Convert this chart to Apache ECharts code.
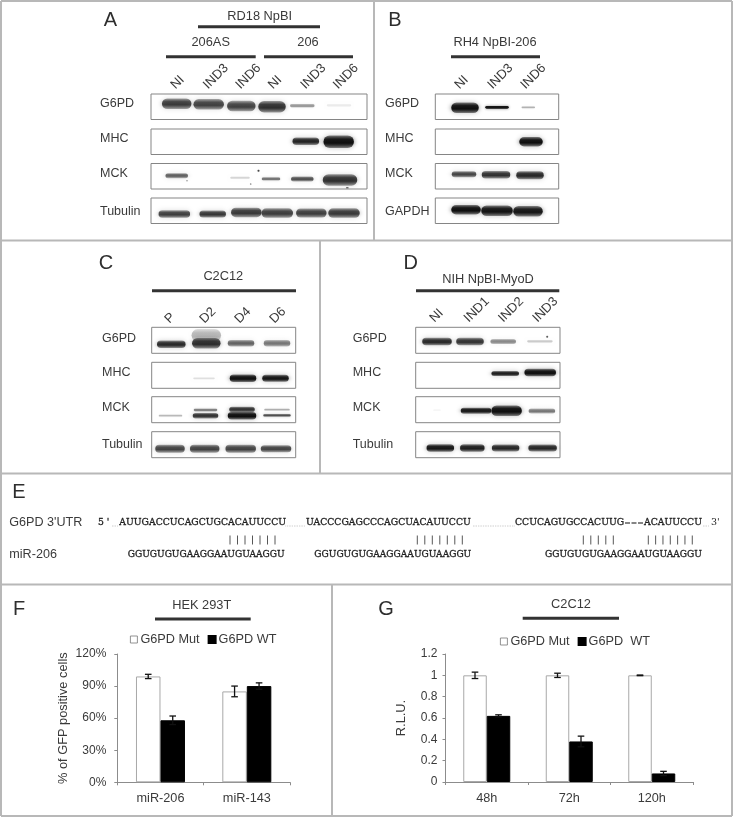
<!DOCTYPE html>
<html><head><meta charset="utf-8">
<style>html,body{margin:0;padding:0;background:#fff}#c{width:733px;height:817px;filter:blur(0.4px)}</style>
<script src="https://cdn.jsdelivr.net/npm/echarts@6/dist/echarts.min.js"></script>
</head><body><div id="c"></div>
<script>
/* ---------- data: band intensities (0..1) ---------- */
const lanesA=['NI','IND3','IND6','NI','IND3','IND6'];
const lanesB=['NI','IND3','IND6'];
const lanesC=['P','D2','D4','D6'];
const lanesD=['NI','IND1','IND2','IND3'];
const A_G6PD=[.75,.72,.72,.8,.38,.08];
const A_MHC=[0,0,0,0,.88,1];
const A_MCK=[.62,0,.16,.52,.68,.8];
const A_MCK_specks=[.5,0,.6,.7,0,.7];
const A_TUB=[.74,.78,.76,.74,.74,.76];
const B_G6PD=[1,.95,.3];
const B_MHC=[0,0,1];
const B_MCK=[.72,.8,.85];
const B_GAPDH=[1,.97,.95];
const C_G6PD=[.85,.82,.6,.52];
const C_G6PD_smear=[0,.28,0,0];
const C_MHC=[0,.13,1,.96];
const C_MCK_low=[.28,.82,1,.68];
const C_MCK_up=[0,.48,.8,.32];
const C_TUB=[.72,.72,.72,.72];
const D_G6PD=[.85,.8,.46,.2];
const D_G6PD_speck=[0,0,0,.6];
const D_MHC=[0,0,.92,1];
const D_MCK=[.04,.95,1,.52];
const D_TUB=[.95,.9,.86,.86];

const fCats=['miR-206','miR-143'];
const fMut=[99,85];
const fWT=[58,90];
const fMutErr=[2,5];
const fWTErr=[4,3];
const gCats=['48h','72h','120h'];
const gMut=[1,1,1];
const gWT=[.62,.38,.08];
const gMutErr=[.03,.02,.003];
const gWTErr=[.01,.05,.02];

const seqTop=['AUUGACCUCAGCUGCACAUUCCU','UACCCGAGCCCAGCUACAUUCCU','CCUCAGUGCCACUUG','ACAUUCCU'];
const seqMir='GGUGUGUGAAGGAAUGUAAGGU';

/* ---------- layout (pixels, offsets, sizes) ---------- */
const SANS='"Liberation Sans"';
const TXT='#3a3a3a';
const panels=[
 {labelX:100,left:151,right:367,tops:[94,129,163.5,198],h:25.5,lane0:177,step:32.5,names:lanesA,ldx:-4,ldy:-7,
  labelY:[104,139,174,212],
  rows:[
   {name:'G6PD',layers:[[A_G6PD,[[-.3,28,8,-3],[-.8,29,8,-2.4],[-.7,27,8,-.7],[-2.5,26,9,0],[-4.7,23,2,-1],[-.5,23,1.5,-1.4]]]]},
   {name:'MHC',layers:[[A_MHC,[0,0,0,0,[-1.2,25,5,-.5],[-.8,29,10,0]]]]},
   {name:'MCK',layers:[[A_MCK,[[-.3,21,2.5,-.6],0,[-2,18,1.2,1.4],[-3.5,17,2,2.7],[-4.7,21,2.5,2.7],[.5,33,9,3.7]]],
                       [A_MCK_specks,[[10,1.5,1,4.4],0,[8.7,1.5,1,7.7],[-16,2,2,-5.6],0,[7.8,2.5,1,11.5]]]]},
   {name:'Tubulin',layers:[[A_TUB,[[-2.7,30,5,3.3],[3.2,25,4.5,3.3],[4.3,29,7,1.7],[2.8,30,7,2.3],[4.3,29,6.5,2.3],[4.5,30,7,2.3]]]]}
  ]},
 {labelX:385,left:435.3,right:558.7,tops:[94,129,163.5,198],h:25.5,lane0:465,step:33,names:lanesB,ldx:-8,ldy:-7,
  labelY:[104,139,174,212],
  rows:[
   {name:'G6PD',layers:[[B_G6PD,[[0,26,8,1],[-1,22,2,.6],[-2.7,12,1,.6]]]]},
   {name:'MHC',layers:[[B_MHC,[0,0,[0,22,7,0]]]]},
   {name:'MCK',layers:[[B_MCK,[[-1,23,3.5,-2],[-2,27,5,-1.5],[-1,26,5.5,-1]]]]},
   {name:'GAPDH',layers:[[B_GAPDH,[[1,28,7,-1],[-1,30,8,0],[-3,28,8,.5]]]]}
  ]},
 {labelX:102,left:151.7,right:295.7,tops:[327.3,362.3,396.7,431.7],h:26,lane0:171,step:35,names:lanesC,ldx:-4,ldy:-6,
  labelY:[338.3,372.7,407.7,445],
  rows:[
   {name:'G6PD',layers:[[C_G6PD_smear,[0,[.3,28,10,-5],0,0]],[C_G6PD,[[.3,27,5,4],[.3,27,8,3],[0,25,4,3],[1,25,4,3]]]]},
   {name:'MHC',layers:[[C_MHC,[0,[-2,20,1,3],[2,25,5,3],[-.5,25,4.5,3]]]]},
   {name:'MCK',layers:[[C_MCK_low,[[-.5,22,1,6],[-.5,24,3,6],[1,27,5,6],[1,26,1.5,5.7]]],[C_MCK_up,[0,[-.5,22,1.5,.3],[1,24,3,-.3],[1,24,1,0]]]]},
   {name:'Tubulin',layers:[[C_TUB,[[-1,28,5.5,4],[-1.3,28,5.5,4],[-.3,29,5.5,4],[0,29,4.5,4]]]]}
  ]},
 {labelX:352.7,left:415.7,right:560,tops:[327.3,362.3,396.7,431.7],h:26,lane0:437,step:34.3,names:lanesD,ldx:-5,ldy:-7,
  labelY:[338.3,372.7,407.7,445],
  rows:[
   {name:'G6PD',layers:[[D_G6PD,[[0,28,5,1.3],[-1.3,26,5,1.3],[-2.4,24,2.5,1.3],[0,24,1.5,1]]],[D_G6PD_speck,[0,0,0,[7.3,2,2,-3.6]]]]},
   {name:'MHC',layers:[[D_MHC,[0,0,[-.4,26,2.5,-1.7],[.3,30,5,-2.7]]]]},
   {name:'MCK',layers:[[D_MCK,[[0,6,1,.5],[4.7,29,3.5,1],[1,29,8,1],[2,25,2.5,1.3]]]]},
   {name:'Tubulin',layers:[[D_TUB,[[3.3,26,5,3.3],[1,23,5,3.3],[0,26,4.5,3.3],[2.7,27,4.5,3.3]]]]}
  ]}
];

/* ---------- build option ---------- */
const grids=[],xAxes=[],yAxes=[],series=[],gfx=[];
function text(x,y,s,o){o=o||{};gfx.push({type:'text',x,y,silent:true,z:10,style:{text:s,
  font:(o.w||'normal')+' '+(o.size||12.5)+'px '+(o.ff||SANS),fill:o.c||TXT,align:o.a||'left',verticalAlign:'middle',
  stroke:o.stroke||null,lineWidth:o.stroke?.3:0}});}
function rule(x1,y1,x2,y2,c,w){gfx.push({type:'line',silent:true,z:5,shape:{x1,y1,x2,y2},style:{stroke:c,lineWidth:w}});}

function bandItem(p,api){
  const i=api.value(0),v=api.value(2),dx=api.value(3),w0=api.value(4),h0=api.value(5),dy=api.value(6);
  const c=api.coord([i,.5]);
  const rgba=a=>'rgba(14,14,14,'+a+')';
  const speck=w0<3, thin=h0<2.5;
  const h=speck?h0:h0+(thin?.8:2.5), w=speck?w0:w0+1.5;
  const fill=(speck||thin)?rgba(v):new echarts.graphic.LinearGradient(0,0,0,1,[
    {offset:0,color:rgba(v*.45)},{offset:.3,color:rgba(v*.92)},{offset:.6,color:rgba(v)},{offset:1,color:rgba(v*.45)}]);
  return {type:'rect',shape:{x:c[0]+dx-w/2,y:c[1]+dy-h/2,width:w,height:h,r:h/2},
    style:{fill,shadowBlur:speck?1:(thin?3:5),shadowColor:rgba(v*.55)},silent:true};
}
panels.forEach(P=>{
  P.rows.forEach((R,ri)=>{
    const gi=grids.length;
    grids.push({show:true,left:P.left,top:P.tops[ri],width:P.right-P.left,height:P.h,borderColor:'#858585',borderWidth:1,backgroundColor:'#fff',z:1});
    xAxes.push({gridIndex:gi,type:'value',show:false,min:(P.left-P.lane0)/P.step,max:(P.right-P.lane0)/P.step});
    yAxes.push({gridIndex:gi,type:'value',show:false,min:0,max:1});
    R.layers.forEach(L=>{
      const d=[];
      L[0].forEach((v,i)=>{if(v>0&&L[1][i])d.push([i,.5,v].concat(L[1][i]));});
      series.push({type:'custom',name:R.name,xAxisIndex:gi,yAxisIndex:gi,renderItem:bandItem,data:d,silent:true,animation:false,z:3,
        dimensions:['lane','y','v','dx','w','h','dy'],encode:{x:0,y:1}});
    });
    text(P.labelX,P.labelY[ri],R.name);
    if(ri===0){
      series.push({type:'custom',name:'lanes',xAxisIndex:gi,yAxisIndex:gi,silent:true,animation:false,z:4,clip:false,
        data:P.names.map((n,i)=>[i,1]),encode:{x:0,y:1},
        renderItem:(p,api)=>{const c=api.coord([api.value(0),1]);
          return {type:'text',x:c[0]+P.ldx,y:c[1]+P.ldy,rotation:Math.PI/4,silent:true,
            style:{text:P.names[p.dataIndex],font:'13px '+SANS,fill:TXT,align:'left',verticalAlign:'middle'}};}});
    }
  });
});

function barChart(cfg){
  const gi=grids.length;
  grids.push({left:cfg.left,top:cfg.top,width:cfg.right-cfg.left,height:cfg.bottom-cfg.top,z:1});
  const ax={lineStyle:{color:'#8c8c8c',width:1}};
  xAxes.push({gridIndex:gi,type:'category',data:cfg.cats,axisLine:{show:true,onZero:false,...ax},axisTick:{show:true,length:3,alignWithLabel:false,...ax},
    axisLabel:{color:TXT,fontFamily:'Liberation Sans',fontSize:12.7,margin:10},splitLine:{show:false}});
  yAxes.push({gridIndex:gi,type:'value',min:0,max:cfg.max,interval:cfg.interval,name:cfg.yName,nameLocation:'middle',nameGap:cfg.nameGap,nameRotate:90,
    nameTextStyle:{color:TXT,fontFamily:'Liberation Sans',fontSize:12.8},
    axisLine:{show:true,...ax},axisTick:{show:true,length:3,...ax},splitLine:{show:false},
    axisLabel:{color:TXT,fontFamily:'Liberation Sans',fontSize:12,margin:cfg.tickMargin,formatter:cfg.fmt}});
  const mk=(name,vals,fill,border)=>({type:'bar',name,xAxisIndex:gi,yAxisIndex:gi,data:vals,barWidth:cfg.barW,barGap:'0%',animation:false,z:2,
     itemStyle:{color:fill,borderColor:border,borderWidth:1},emphasis:{disabled:true}});
  series.push(mk('G6PD Mut',cfg.mut,'#fff','#a8a8a8'));
  series.push(mk(cfg.wtName,cfg.wt,'#000','#000'));
  const err=(vals,errs,sign)=>({type:'custom',name:'err',xAxisIndex:gi,yAxisIndex:gi,animation:false,silent:true,z:6,clip:false,
    data:vals.map((v,i)=>[i,v,errs[i]]),encode:{x:0,y:1},
    renderItem:(p,api)=>{const i=api.value(0),v=api.value(1),e=api.value(2);
      const x=api.coord([i,v])[0]+sign*cfg.barW/2,yh=api.coord([i,v+e])[1],yl=api.coord([i,v-e])[1],st={stroke:'#111',lineWidth:1.3};
      return {type:'group',children:[
        {type:'line',shape:{x1:x,y1:yh,x2:x,y2:yl},style:st},
        {type:'line',shape:{x1:x-3.3,y1:yh,x2:x+3.3,y2:yh},style:st},
        {type:'line',shape:{x1:x-3.3,y1:yl,x2:x+3.3,y2:yl},style:st}]};}});
  series.push(err(cfg.mut,cfg.mutErr,-1));
  series.push(err(cfg.wt,cfg.wtErr,1));
}
barChart({left:117.3,right:290,top:654,bottom:782.3,cats:fCats,mut:fMut,wt:fWT,mutErr:fMutErr,wtErr:fWTErr,wtName:'G6PD WT',barW:24.5,
  max:120,interval:30,fmt:'{value}%',yName:'% of GFP positive cells',nameGap:47,tickMargin:11});
barChart({left:445.5,right:693,top:654,bottom:782,cats:gCats,mut:gMut,wt:gWT,mutErr:gMutErr,wtErr:gWTErr,wtName:'G6PD  WT',barW:23.5,
  max:1.2,interval:.2,yName:'R.L.U.',nameGap:38,tickMargin:8});

/* panel dividers */
const B='#b8b8b8';
rule(1,1,732,1,B,2);rule(1,1,1,816,B,2);rule(732,1,732,816,B,2);rule(1,816,732,816,B,2);
rule(1,240.5,732,240.5,B,2);rule(1,473.5,732,473.5,B,2);rule(1,584.5,732,584.5,B,2);
rule(374,1,374,240.5,B,2);rule(320,240.5,320,473.5,B,2);rule(332,584.5,332,816,B,2);

/* panel letters */
[['A',110.5,20],['B',395,20],['C',106,263.5],['D',410.7,263.5],['E',19,492],['F',19,609],['G',386,609]].forEach(l=>text(l[1],l[2],l[0],{size:20,a:'center',c:'#2e2e2e'}));

/* headers */
const H='#333',HS=12.8;
text(259.7,16.7,'RD18 NpBI',{a:'center',size:HS});rule(198,26.7,320,26.7,H,3);
text(210.7,42.7,'206AS',{a:'center',size:HS});text(308,42.7,'206',{a:'center',size:HS});
rule(166,56.7,255.7,56.7,H,3);rule(264,56.7,353,56.7,H,3);
text(495,42.7,'RH4 NpBI-206',{a:'center',size:HS});rule(451,56.7,540,56.7,H,3);
text(223.3,276.7,'C2C12',{a:'center',size:HS});rule(152,290.7,296,290.7,H,3);
text(488,279.3,'NIH NpBI-MyoD',{a:'center',size:HS});rule(416,290.7,559.3,290.7,H,3);
text(201.7,605,'HEK 293T',{a:'center',size:HS});rule(155,619,250.7,619,H,3);
text(571,604,'C2C12',{a:'center',size:HS});rule(522.7,618.3,619,618.3,H,3);

/* E: alignment */
text(9.3,522.7,"G6PD 3'UTR",{size:12.6});text(9.3,554.5,'miR-206',{size:12.6});
const SERIF='"DejaVu Serif"';
const so={ff:SERIF,size:9.25,c:'#1e1e1e',stroke:'#1e1e1e'};
const sm={ff:SERIF,size:9.06,c:'#1e1e1e',stroke:'#1e1e1e'};
text(98,522.7,"5 '",so);
[[119.3,0],[306,1],[515,2],[644,3]].forEach(a=>text(a[0],522.7,seqTop[a[1]],so));
[[625,630],[631.5,636.5],[638,643]].forEach(d=>rule(d[0],523,d[1],523,'#222',1.1));
[127.7,314.3,545].forEach(x=>text(x,555,seqMir,sm));
text(711,522.7,"3'",{ff:SERIF,size:9.5,c:'#1e1e1e'});
[[112,118],[285.5,305],[473,514],[703,709]].forEach(d=>{for(let x=d[0];x<d[1];x+=1.7)rule(x,526,x+.6,526,'#9a9a9a',.8);});
[[230,7,7.5],[417.3,7,7.5],[583.3,5,7.5],[648.3,7,7.33]].forEach(p=>{for(let i=0;i<p[1];i++)rule(p[0]+i*p[2],535.5,p[0]+i*p[2],544.5,'#444',.9);});

const legIcon={borderColor:'#777',borderWidth:.8};
const legText={color:TXT,fontFamily:'Liberation Sans',fontSize:12.7,padding:[0,0,0,-2]};
const opt={animation:false,backgroundColor:'#fff',grid:grids,xAxis:xAxes,yAxis:yAxes,series,
  legend:[
   {left:130,top:633,data:[{name:'G6PD Mut',itemStyle:legIcon},'G6PD WT'],icon:'rect',itemWidth:7,itemHeight:7,itemGap:8,selectedMode:false,padding:0,textStyle:legText},
   {left:500,top:635,data:[{name:'G6PD Mut',itemStyle:legIcon},'G6PD  WT'],icon:'rect',itemWidth:7,itemHeight:7,itemGap:8,selectedMode:false,padding:0,textStyle:legText}
  ],
  graphic:{elements:gfx}};
const chart=echarts.init(document.getElementById('c'),null,{renderer:'canvas',width:733,height:817});
chart.setOption(opt);
</script></body></html>
